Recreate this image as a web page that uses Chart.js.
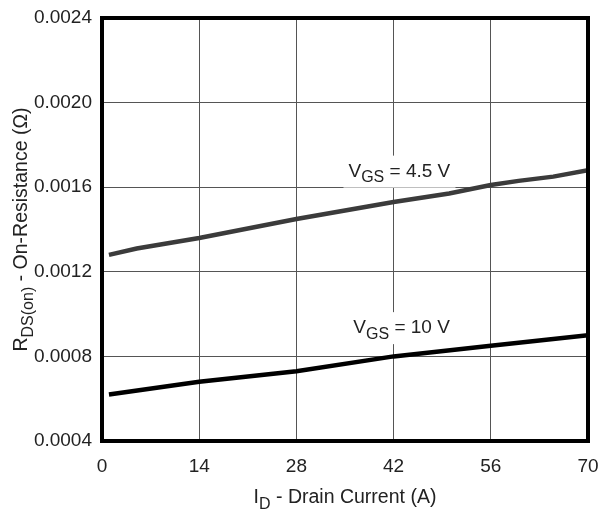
<!DOCTYPE html>
<html>
<head>
<meta charset="utf-8">
<script src="https://cdn.jsdelivr.net/npm/chart.js@4"></script>
<style>
html,body{margin:0;padding:0;background:#fff}
#wrap{width:601px;height:513px}
</style>
</head>
<body>
<div id="wrap"><canvas id="chart" width="601" height="513"></canvas></div>
<script>
// values
const current45 = [1, 5, 14, 28, 42, 50, 56, 60, 65, 70]
const rds45 = [0.00128, 0.00131, 0.00136, 0.00145, 0.00153, 0.00157, 0.00161, 0.00163, 0.00165, 0.00168]
const current10 = [1, 14, 28, 42, 56, 70]
const rds10 = [0.00062, 0.00068, 0.00073, 0.00080, 0.00085, 0.00090]
const xTicks = [0, 14, 28, 42, 56, 70]
const yTicks = [0.0004, 0.0008, 0.0012, 0.0016, 0.0020, 0.0024]

const font = '"Liberation Sans", Arial, sans-serif'

function pts(xs, ys){
    return xs.map((x,i)=>({x:x, y:ys[i]}))
}

// text with a subscript part: [main, sub, rest]
function subText(ctx, x, y, parts, size, align){
    const big = size + 'px ' + font
    const small = Math.round(size*0.82) + 'px ' + font
    ctx.font = big
    const w1 = ctx.measureText(parts[0]).width
    const w3 = ctx.measureText(parts[2]).width
    ctx.font = small
    const w2 = ctx.measureText(parts[1]).width
    const total = w1 + w2 + w3
    let sx = align === 'center' ? x - total/2 : x
    ctx.textAlign = 'left'
    ctx.textBaseline = 'alphabetic'
    ctx.font = big
    ctx.fillText(parts[0], sx, y)
    ctx.font = small
    ctx.fillText(parts[1], sx + w1, y + size*0.3)
    ctx.font = big
    ctx.fillText(parts[2], sx + w1 + w2, y)
    return total
}

const curveLabels = [
    {x: 35.5, y: 0.00165, parts: ['V', 'GS', ' = 4.5 V']},
    {x: 36.2, y: 0.00091, parts: ['V', 'GS', ' = 10 V']}
]

const decor = {
    id: 'decor',
    beforeDatasetsDraw(chart){
        const ctx = chart.ctx
        const xs = chart.scales.x, ys = chart.scales.y
        ctx.save()
        curveLabels.forEach(l=>{
            const px = xs.getPixelForValue(l.x)
            const py = ys.getPixelForValue(l.y)
            ctx.fillStyle = '#fff'
            ctx.fillRect(px - 5, py - 21, 112, 32)
            ctx.fillStyle = '#222'
            subText(ctx, px, py, l.parts, 19, 'left')
        })
        ctx.restore()
    },
    afterDraw(chart){
        const ctx = chart.ctx
        const a = chart.chartArea
        ctx.save()
        ctx.strokeStyle = '#000'
        ctx.lineWidth = 4
        ctx.strokeRect(a.left, a.top, a.right - a.left, a.bottom - a.top)
        ctx.fillStyle = '#222'
        subText(ctx, (a.left + a.right)/2, 503, ['I', 'D', ' - Drain Current (A)'], 19.5, 'center')
        ctx.translate(27, (a.top + a.bottom)/2)
        ctx.rotate(-Math.PI/2)
        subText(ctx, 0, 0, ['R', 'DS(on)', ' - On-Resistance (\u03A9)'], 19.5, 'center')
        ctx.restore()
    }
}

new Chart(document.getElementById('chart'), {
    type: 'line',
    data: {
        datasets: [{
            label: 'VGS = 4.5 V',
            data: pts(current45, rds45),
            borderColor: '#3b3b3b',
            borderWidth: 4.5,
            pointRadius: 0,
            tension: 0
        },{
            label: 'VGS = 10 V',
            data: pts(current10, rds10),
            borderColor: '#000',
            borderWidth: 4.5,
            pointRadius: 0,
            tension: 0
        }]
    },
    options: {
        responsive: false,
        animation: false,
        events: [],
        layout: {padding: {top: 18, right: 13, left: 0, bottom: 0}},
        plugins: {legend: {display: false}, tooltip: {enabled: false}},
        scales: {
            x: {
                type: 'linear',
                min: 0, max: 70,
                afterBuildTicks(s){ s.ticks = xTicks.map(v=>({value:v})) },
                afterFit(s){ s.height = 72; s.paddingLeft = 0; s.paddingRight = 0 },
                grid: {color: '#555', lineWidth: 1, drawTicks: false},
                border: {display: false},
                ticks: {color: '#222', font: {family: font, size: 19}, padding: 14}
            },
            y: {
                min: 0.0004, max: 0.0024,
                afterBuildTicks(s){ s.ticks = yTicks.map(v=>({value:v})) },
                afterFit(s){ s.width = 102; s.paddingTop = 0; s.paddingBottom = 0 },
                grid: {color: '#555', lineWidth: 1, drawTicks: false},
                border: {display: false},
                ticks: {
                    color: '#222', font: {family: font, size: 19}, padding: 10,
                    callback: v => v.toFixed(4)
                }
            }
        }
    },
    plugins: [decor]
})
</script>
</body>
</html>
